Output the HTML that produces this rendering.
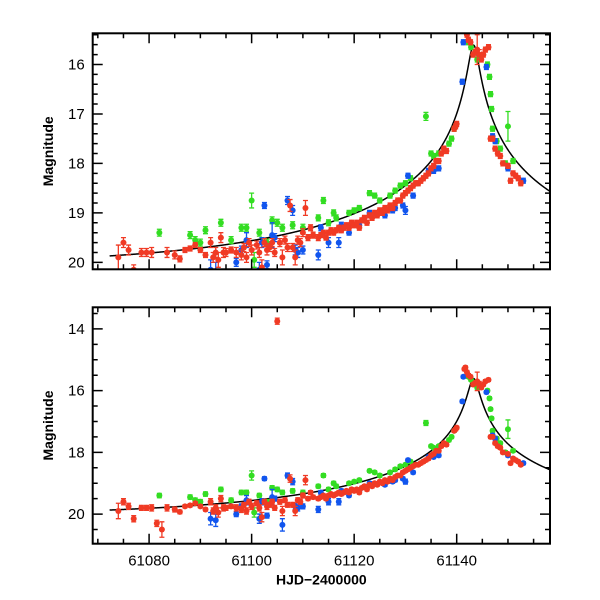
<!DOCTYPE html>
<html><head><meta charset="utf-8"><style>
html,body{margin:0;padding:0;background:#fff;}
svg{display:block;font-family:"Liberation Sans",sans-serif;}
</style></head><body>
<svg id="chart" width="600" height="600" viewBox="0 0 600 600" xmlns="http://www.w3.org/2000/svg"></svg>
<script>
// ---- data ----
const redT=[61074,61075,61076,61077,61078.5,61079.5,61080.5,61081.5,61082.5,61083.5,61085,61086,61087,61088,61089,61090,61091,61092,61092.5,61093,61093.5,61094,61094.5,61095,61096,61097,61098,61098.5,61099,61099.5,61100,61101,61101.5,61102,61102.5,61103,61103.5,61104,61104.5,61105,61105.5,61106,61106.5,61107,61107.5,61108,61108.5,61109,61109.5,61110,61110.5,61111,61111.5,61112,61113,61113.5,61114,61114.5,61115,61115.5,61116,61116.5,61117,61117.5,61118,61118.5,61119,61119.5,61120,61120.5,61121,61121.5,61122,61122.5,61123,61123.5,61124,61124.5,61125,61125.5,61126,61126.5,61127,61127.5,61128,61128.5,61129,61129.5,61130,61130.5,61131,61131.5,61132,61132.5,61133,61133.5,61134,61134.5,61135,61135.5,61136,61136.5,61137,61137.5,61138,61139.5,61139.8,61140,61141.5,61141.7,61142,61142.3,61142.7,61143.2,61143.6,61144,61144.4,61144.8,61145.2,61145.6,61146.2,61146.6,61147,61147.5,61148,61148.5,61149,61150,61150.5,61151,61151.5,61152,61152.5,61153];
const redM=[19.9,19.6,19.75,20.15,19.8,19.8,19.8,20.3,20.5,19.8,19.85,19.93,19.75,19.72,19.65,19.75,19.85,19.6,19.9,19.8,19.95,19.5,19.8,19.8,19.75,19.8,19.85,19.7,19.9,19.6,19.75,19.65,19.8,20.1,19.6,19.75,19.7,19.6,19.8,13.75,19.6,19.9,19.55,19.7,18.85,19.7,19.9,19.55,19.6,19.4,18.9,19.5,19.3,19.45,19.5,19.45,19.4,19.5,19.4,19.35,19.4,19.35,19.3,19.35,19.3,19.25,19.3,19.2,19.25,19.2,19.3,19.15,19.1,19.2,19.05,19.1,19.0,19.05,18.95,19.0,18.9,18.95,18.85,18.9,18.8,18.75,18.75,18.65,18.6,18.55,18.5,18.45,18.4,18.4,18.35,18.3,18.25,18.2,18.1,18.05,17.95,17.95,17.8,17.7,17.75,17.3,17.25,17.2,15.3,15.25,15.4,15.5,15.55,15.8,15.75,15.7,15.8,15.9,15.8,15.7,15.65,17.5,17.5,17.7,17.8,17.85,18.0,18.05,18.35,18.2,18.25,18.3,18.4];
const redE=[0.25,0.1,0.1,0.1,0.08,0.08,0.1,0.1,0.25,0.1,0.08,0.06,0.05,0.05,0.05,0.05,0.05,0.1,0.1,0.1,0.15,0.1,0.1,0.08,0.06,0.1,0.1,0.08,0.1,0.08,0.1,0.08,0.1,0.15,0.08,0.1,0.08,0.08,0.08,0.1,0.08,0.15,0.08,0.08,0.12,0.08,0.15,0.08,0.08,0.08,0.15,0.06,0.06,0.06,0.06,0.05,0.05,0.05,0.05,0.05,0.05,0.05,0.05,0.05,0.05,0.05,0.05,0.05,0.05,0.05,0.05,0.05,0.05,0.05,0.05,0.05,0.05,0.05,0.05,0.05,0.05,0.05,0.05,0.05,0.05,0.05,0.05,0.05,0.05,0.05,0.05,0.05,0.05,0.05,0.05,0.05,0.05,0.05,0.05,0.05,0.05,0.05,0.05,0.05,0.05,0.05,0.05,0.05,0.05,0.05,0.05,0.05,0.05,0.05,0.05,0.3,0.1,0.05,0.05,0.05,0.05,0.05,0.05,0.05,0.05,0.05,0.05,0.05,0.05,0.05,0.05,0.05,0.05];
const grnT=[61082,61088,61089,61090,61091,61094,61096,61098,61099,61100,61100.5,61101.5,61103,61104,61105,61106,61108,61110,61113,61114,61115,61116,61116.5,61119,61120,61121,61123,61124,61125,61127,61128,61129,61130,61131,61134,61135,61135.5,61136.5,61138.5,61139,61139.5,61142.3,61142.8,61144,61146,61146.4,61146.6,61146.8,61147,61147.8,61148.5,61150,61151,61149.5];
const grnM=[19.4,19.45,19.55,19.6,19.35,19.2,19.55,19.3,19.3,18.75,19.95,19.4,19.6,19.15,19.2,19.3,19.25,19.3,19.1,18.75,19.2,19.0,19.1,19.0,18.95,18.9,18.6,18.65,18.75,18.65,18.55,18.45,18.4,18.3,17.05,17.8,17.85,17.8,17.6,17.5,17.3,15.55,15.65,15.9,16.0,16.25,16.6,16.9,17.3,17.55,17.7,17.25,17.95,18.0];
const grnE=[0.07,0.07,0.07,0.07,0.07,0.07,0.07,0.07,0.07,0.15,0.15,0.07,0.07,0.07,0.07,0.07,0.07,0.07,0.06,0.06,0.06,0.06,0.06,0.05,0.05,0.05,0.05,0.05,0.05,0.05,0.05,0.05,0.05,0.05,0.08,0.05,0.05,0.05,0.05,0.05,0.05,0.05,0.05,0.05,0.05,0.05,0.05,0.05,0.05,0.05,0.05,0.3,0.05,0.05];
const bluT=[61092,61093,61097,61098,61099,61101.5,61102,61102.5,61103,61104,61104.5,61106,61107,61108,61108.5,61109,61110,61113,61113.5,61115,61117,61117.5,61119,61121,61123,61126,61127.5,61128,61129.5,61130,61130.5,61131.5,61134.5,61135.5,61136.5,61141.1,61141.3,61145.8,61147,61147.5,61150,61153];
const bluM=[20.15,20.2,20.0,19.75,19.55,20.15,19.6,18.85,20.05,19.45,19.5,20.35,18.75,18.95,19.75,19.8,19.75,19.85,19.3,19.6,19.6,19.25,19.4,19.25,19.0,19.05,18.95,18.9,18.85,18.95,18.25,18.65,18.15,18.15,18.1,16.35,15.55,16.05,17.45,17.55,18.1,18.35];
const bluE=[0.2,0.2,0.08,0.08,0.15,0.15,0.1,0.06,0.08,0.25,0.08,0.2,0.08,0.1,0.1,0.1,0.08,0.1,0.06,0.1,0.1,0.06,0.05,0.05,0.05,0.05,0.05,0.05,0.05,0.08,0.05,0.05,0.05,0.05,0.05,0.05,0.05,0.05,0.05,0.05,0.05,0.05];
const xTicks=[61080,61100,61120,61140];
const yTicksTop=[16,17,18,19,20];
const yTicksBot=[14,16,18,20];
// model params (Paczynski)
const model={t0:61143.3,u0:0.016,tE:60,base:20.1};

// ---- drawing ----
const svg=document.getElementById('chart');
const NS='http://www.w3.org/2000/svg';
function mk(tag,attrs,parent){const e=document.createElementNS(NS,tag);for(const k in attrs)e.setAttribute(k,attrs[k]);(parent||svg).appendChild(e);return e;}
const X0=92.7,X1=550,T0=61069,T1=61158.2;
function xs(t){return X0+(t-T0)/(T1-T0)*(X1-X0);}
function modelMag(t){const u=Math.sqrt(model.u0*model.u0+Math.pow((t-model.t0)/model.tE,2));const A=(u*u+2)/(u*Math.sqrt(u*u+4));return model.base-2.5*Math.log10(A);}
const panels=[
 {name:'top-panel',top:33.3,bot:269.3,mTop:15.37,mBot:20.14,ticks:yTicksTop,minor:0.2,showX:false},
 {name:'bottom-panel',top:307.3,bot:543.7,mTop:13.30,mBot:20.96,ticks:yTicksBot,minor:0.5,showX:true}
];
const series=[
 {name:'green',t:grnT,m:grnM,e:grnE,c:'#33dd22'},
 {name:'blue',t:bluT,m:bluM,e:bluE,c:'#1155ee'},
 {name:'red',t:redT,m:redM,e:redE,c:'#f03a24'}
];
panels.forEach((p,pi)=>{
 const g=mk('g',{});
 
 
 const ys=m=>p.top+(m-p.mTop)/(p.mBot-p.mTop)*(p.bot-p.top);
 const cid='clip'+pi;
 const cp=mk('clipPath',{id:cid},g);mk('rect',{x:X0,y:p.top,width:X1-X0,height:p.bot-p.top},cp);
 const dg=mk('g',{'clip-path':'url(#'+cid+')'},g);
 let d='';for(let t=61072.3;t<=T1;t+=0.05){d+=(d?'L':'M')+xs(t).toFixed(2)+','+ys(modelMag(t)).toFixed(2);}
 const curve=mk('path',{d:d,fill:'none',stroke:'#000','stroke-width':1.5},dg);
 
 
 series.forEach(s=>{
  const sg=mk('g',{fill:s.c,stroke:s.c},dg);
  
  
  for(let i=0;i<s.t.length;i++){
   const x=xs(s.t[i]),y=ys(s.m[i]),e=s.e[i];
   const y1=ys(s.m[i]-e),y2=ys(s.m[i]+e);
   mk('path',{d:`M${x},${y1}V${y2}M${x-2.5},${y1}H${x+2.5}M${x-2.5},${y2}H${x+2.5}`,'stroke-width':1.3,fill:'none'},sg);
   const c=mk('circle',{cx:x,cy:y,r:3,stroke:'none'},sg);
   
   
  }
 });
 const fr=mk('rect',{x:X0,y:p.top,width:X1-X0,height:p.bot-p.top,fill:'none',stroke:'#000','stroke-width':2},g);
 
 
 let td='';
 for(let t=61070;t<=T1;t+=5){const x=xs(t);const L=(t%20===0)?10:5;td+=`M${x},${p.bot}v${-L}M${x},${p.top}v${L}`;}
 for(let m=Math.ceil(p.mTop/p.minor)*p.minor;m<=p.mBot+1e-9;m+=p.minor){const y=ys(m);const maj=p.ticks.some(v=>Math.abs(v-m)<1e-6);const L=maj?10:5;td+=`M${X0},${y}h${L}M${X1},${y}h${-L}`;}
 mk('path',{d:td,stroke:'#000','stroke-width':1.5,fill:'none'},g);
 p.ticks.forEach(v=>{const tx=mk('text',{x:X0-8,y:ys(v)+5,'text-anchor':'end','font-size':15,fill:'#000'},g);tx.textContent=v;
  });
 const yt=mk('text',{x:0,y:0,transform:`translate(${53},${(p.top+p.bot)/2}) rotate(-90)`,'text-anchor':'middle','font-size':14,'font-weight':'bold',fill:'#000'},g);
 yt.textContent='Magnitude';
 
 
 if(p.showX){
  xTicks.forEach(v=>{const tx=mk('text',{x:xs(v),y:p.bot+22,'text-anchor':'middle','font-size':15,fill:'#000'},g);tx.textContent=v;
   });
  const xt=mk('text',{x:(X0+X1)/2,y:p.bot+41,'text-anchor':'middle','font-size':14,'font-weight':'bold',fill:'#000'},g);
  xt.textContent='HJD\u22122400000';
  
  
 }
});
</script>
</body></html>
